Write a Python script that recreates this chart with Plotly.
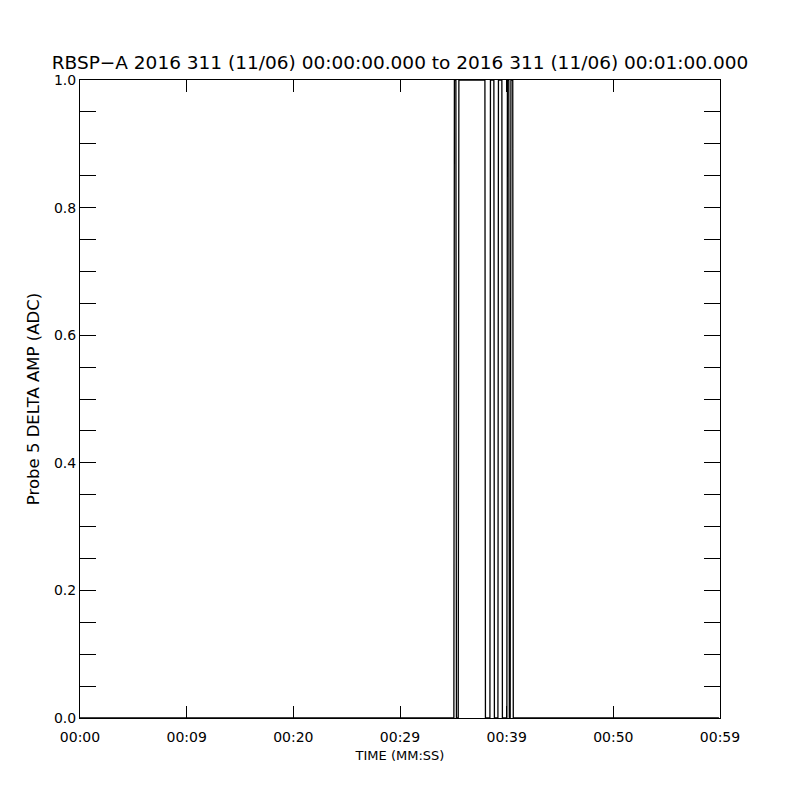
import plotly.graph_objects as go

# Probe 5 delta amplitude samples (seconds after 00:00:00.000)
time_s = [0.0, 35.05, 35.10, 35.24, 35.29, 35.46, 35.52, 37.96, 38.01,
          38.43, 38.48, 38.80, 38.85, 39.18, 39.23, 39.55, 39.60, 40.02,
          40.07, 40.20, 40.25, 40.33, 40.40, 40.57, 40.62, 59.9]
delta_amp = [0, 0, 1, 1, 0, 0, 1, 1, 0,
             0, 1, 1, 0, 0, 1, 1, 0, 0,
             1, 1, 0, 0, 1, 1, 0, 0]

x_tick_vals = [0, 10, 20, 30, 40, 50, 60]
x_tick_text = ['00:00', '00:09', '00:20', '00:29', '00:39', '00:50', '00:59']

font = 'DejaVu Sans'

fig = go.Figure(go.Scatter(
    x=time_s,
    y=delta_amp,
    mode='lines',
    line=dict(color='black', width=1.3),
    showlegend=False
))

fig.update_layout(
    width=800, height=800,
    margin=dict(l=80, r=80, t=80, b=82),
    paper_bgcolor='white',
    plot_bgcolor='white',
    font=dict(family=font, size=14, color='black'),
    title=dict(
        text='RBSP\u2212A 2016 311 (11/06) 00:00:00.000 to 2016 311 (11/06) 00:01:00.000',
        x=0.5, xanchor='center',
        y=1 - 63 / 800, yanchor='middle', yref='container',
        font=dict(family=font, size=18.5, color='black')
    )
)

fig.update_xaxes(
    range=[0, 60],
    tickvals=x_tick_vals,
    ticktext=x_tick_text,
    ticks='inside', ticklen=12, tickcolor='black',
    ticklabelstandoff=6,
    showline=True, linecolor='black', linewidth=1, mirror='ticks',
    showgrid=False, zeroline=False,
    title=dict(text='TIME (MM:SS)', standoff=7, font=dict(size=13))
)

fig.update_yaxes(
    range=[0, 1],
    dtick=0.2, tickformat='.1f',
    ticks='inside', ticklen=16, tickcolor='black',
    minor=dict(dtick=0.05, ticks='inside', ticklen=16, tickcolor='black', showgrid=False),
    showline=True, linecolor='black', linewidth=1, mirror='ticks',
    showgrid=False, zeroline=False,
    title=dict(text='Probe 5 DELTA AMP (ADC)', standoff=10, font=dict(size=16.5))
)

fig.write_html('out.html', config={'displayModeBar': False},
               post_script="document.body.style.margin='0';")
